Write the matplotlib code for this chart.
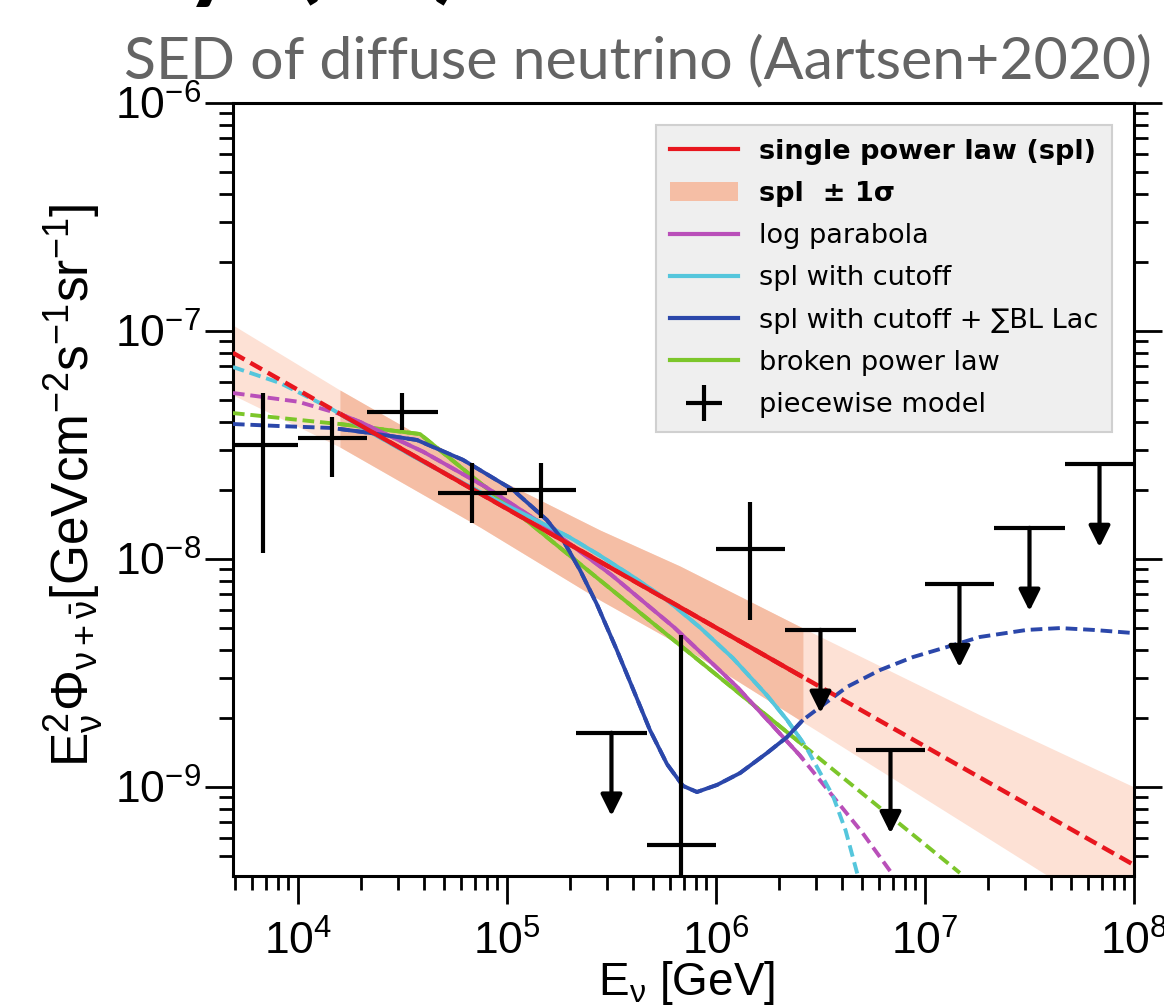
import numpy as np
import matplotlib
matplotlib.use("Agg")
import matplotlib.pyplot as plt
from matplotlib.lines import Line2D
from matplotlib.patches import Patch

# everything below is log10(E / GeV) and log10(E^2 Phi / GeV cm^-2 s^-1 sr^-1)
spl_logE = [3.689, 4.201, 6.416, 8.0]
spl_logF = [-7.096, -7.363, -8.518, -9.342]

band_logE = [3.689, 4.201, 4.871, 5.445, 5.828, 6.416, 7.263, 8.0]
band_top = [-6.974, -7.259, -7.610, -7.873, -8.031, -8.303, -8.684, -9.000]
band_bot = [-7.281, -7.509, -7.860, -8.180, -8.377, -8.715, -9.202, -9.627]

logpar_logE = [3.689, 4.0, 4.201, 4.3, 4.6, 4.9, 5.2, 5.5, 5.8, 6.1, 6.4, 6.416, 6.7, 6.85]
logpar_logF = [-7.272, -7.31, -7.364, -7.40, -7.53, -7.685, -7.865, -8.07, -8.30, -8.56, -8.86,
               -8.878, -9.20, -9.39]

cut_logE = [3.689, 3.914, 4.153, 4.201, 4.311, 4.584, 4.871, 5.158, 5.30, 5.445, 5.603, 5.766,
            5.923, 6.081, 6.244, 6.340, 6.416, 6.435, 6.560, 6.62, 6.679]
cut_logF = [-7.158, -7.228, -7.338, -7.364, -7.425, -7.566, -7.706, -7.838, -7.905, -7.985, -8.078,
            -8.180, -8.300, -8.435, -8.598, -8.706, -8.805, -8.832, -9.040, -9.19, -9.390]

bllac_logE = [3.689, 3.914, 4.153, 4.201, 4.344, 4.569, 4.789, 4.871, 5.029, 5.191, 5.268, 5.349,
              5.431, 5.526, 5.603, 5.684, 5.766, 5.842, 5.909, 6.005, 6.115, 6.244, 6.340,
              6.416, 6.435, 6.627, 6.785, 6.943, 7.105, 7.263, 7.488, 7.646, 7.804, 8.0]
bllac_logF = [-7.408, -7.417, -7.425, -7.430, -7.447, -7.478, -7.565, -7.610, -7.697, -7.829, -7.917,
              -8.048, -8.200, -8.400, -8.570, -8.750, -8.900, -8.995, -9.022, -8.991, -8.939, -8.851,
              -8.781, -8.706, -8.693, -8.561, -8.487, -8.430, -8.386, -8.342, -8.311, -8.303, -8.311,
              -8.325]

bpl_logE = [3.689, 4.153, 4.201, 4.584, 6.416, 7.167]
bpl_logF = [-7.360, -7.404, -7.408, -7.452, -8.816, -9.377]

# sensitive energy range (solid lines / dark band)
fit_lo, fit_hi = 4.201, 6.416

# piecewise model: bins in log10(E), flux values (upper limits flagged)
pw_lo = [3.67, 4.0, 4.33, 4.67, 5.0, 5.33, 5.67, 6.0, 6.33, 6.67, 7.0, 7.33, 7.67]
pw_hi = [4.0, 4.33, 4.67, 5.0, 5.33, 5.67, 6.0, 6.33, 6.67, 7.0, 7.33, 7.67, 8.0]
pw_flux = [3.16e-8, 3.40e-8, 4.41e-8, 1.95e-8, 2.01e-8, 1.73e-9, 5.57e-10,
           1.11e-8, 4.89e-9, 1.45e-9, 7.76e-9, 1.37e-8, 2.61e-8]
pw_up = [5.35e-8, 4.20e-8, 5.35e-8, 2.64e-8, 2.64e-8, None, 4.65e-9,
         1.78e-8, None, None, None, None, None]
pw_down = [1.06e-8, 2.29e-8, 3.68e-8, 1.44e-8, 1.51e-8, None, 1.0e-10,
           5.4e-9, None, None, None, None, None]
pw_ul = [False, False, False, False, False, True, False, False, True, True, True, True, True]

RED = "#e8161e"
MAG = "#b94fb9"
CYAN = "#55c6dc"
BLUE = "#2b47aa"
GREEN = "#7cc62a"
BAND_DARK = "#f5bea5"
BAND_LIGHT = "#fde1d5"

plt.rcParams["font.family"] = ["Liberation Sans", "DejaVu Sans"]
plt.rcParams["mathtext.fontset"] = "custom"
plt.rcParams["mathtext.rm"] = "Liberation Sans"
plt.rcParams["mathtext.it"] = "Liberation Sans"
plt.rcParams["mathtext.bf"] = "Liberation Sans:bold"

fig = plt.figure(figsize=(11.64, 10.07), dpi=100)
ax = fig.add_axes([233 / 1164, 1 - 876 / 1007, 901 / 1164, 773 / 1007])


def curve(logE, logF, color, lw=2.8):
    E = 10 ** np.array(logE)
    F = 10 ** np.array(logF)
    ax.plot(E, F, color=color, lw=lw, ls=(0, (3, 1.5)), zorder=3)
    m = (np.array(logE) >= fit_lo - 1e-6) & (np.array(logE) <= fit_hi + 1e-6)
    idx = np.where(m)[0]
    if len(idx) > 1:
        lo, hi = idx[0], idx[-1] + 1
        ax.plot(E[lo:hi], F[lo:hi], color=color, lw=lw, solid_capstyle="butt", zorder=4)


# uncertainty band
bE = 10 ** np.array(band_logE)
bT = 10 ** np.array(band_top)
bB = 10 ** np.array(band_bot)
ax.fill_between(bE, bB, bT, color=BAND_LIGHT, lw=0, zorder=1)
inside = (np.array(band_logE) >= fit_lo - 1e-6) & (np.array(band_logE) <= fit_hi + 1e-6)
ax.fill_between(bE, bB, bT, where=inside, color=BAND_DARK, lw=0, zorder=1.5)

curve(bpl_logE, bpl_logF, GREEN)
curve(logpar_logE, logpar_logF, MAG)
curve(cut_logE, cut_logF, CYAN)
curve(bllac_logE, bllac_logF, BLUE)
curve(spl_logE, spl_logF, RED, lw=3.2)

# piecewise model crosses / upper limits
for lo, hi, f, up, dn, ul in zip(pw_lo, pw_hi, pw_flux, pw_up, pw_down, pw_ul):
    Ec = 10 ** ((lo + hi) / 2)
    ax.plot([10 ** lo, 10 ** hi], [f, f], color="k", lw=3, solid_capstyle="butt", zorder=6)
    if ul:
        ax.annotate("", xy=(Ec, f * 10 ** -0.365), xytext=(Ec, f),
                    arrowprops=dict(arrowstyle="-|>", color="k", lw=3,
                                    mutation_scale=32, shrinkA=0, shrinkB=0), zorder=6)
    else:
        ax.plot([Ec, Ec], [dn, up], color="k", lw=3, solid_capstyle="butt", zorder=6)

ax.set_xscale("log")
ax.set_yscale("log")
ax.set_xlim(4.89e3, 1e8)
ax.set_ylim(4.07e-10, 1e-6)

for s in ax.spines.values():
    s.set_linewidth(2.2)
ax.tick_params(which="both", direction="out", width=2, top=False, right=True)
ax.tick_params(which="major", length=20)
ax.tick_params(which="minor", length=10)
ax.tick_params(axis="x", labelsize=32, pad=12)
ax.tick_params(axis="y", labelsize=32, pad=3)

ax.set_xlabel(r"E$_\nu$ [GeV]", fontsize=33)
ax.xaxis.set_label_coords(0.503, -0.108)
ax.set_ylabel(r"E$_\nu^2\Phi_{\nu+\bar\nu}$[GeVcm$^{-2}$s$^{-1}$sr$^{-1}$]", fontsize=37)
ax.yaxis.set_label_coords(-0.142, 0.506)

handles = [
    Line2D([], [], color=RED, lw=3),
    Patch(facecolor=BAND_DARK, edgecolor="none"),
    Line2D([], [], color=MAG, lw=3),
    Line2D([], [], color=CYAN, lw=3),
    Line2D([], [], color=BLUE, lw=3),
    Line2D([], [], color=GREEN, lw=3),
    Line2D([], [], color="k", marker="+", ms=26, mew=3, ls="none"),
]
labels = ["single power law (spl)", "spl  ± 1σ", "log parabola", "spl with cutoff",
          "spl with cutoff + ∑BL Lac", "broken power law", "piecewise model"]
leg = ax.legend(handles, labels, loc="upper right", bbox_to_anchor=(0.9756, 0.9715),
                borderaxespad=0, frameon=True, fancybox=False,
                facecolor="#efefef", edgecolor="#d0d0d0", framealpha=1,
                handlelength=2.5, handletextpad=0.8, labelspacing=0.6, borderpad=0.5,
                prop={"family": ["DejaVu Sans"], "size": 19.5})
leg.get_frame().set_linewidth(1.5)
for t in leg.get_texts()[:2]:
    t.set_fontweight("bold")
leg.set_zorder(10)

fig.text(0.548, 1 - 78 / 1007, "SED of diffuse neutrino (Aartsen+2020)", ha="center",
         va="baseline", fontsize=42.5, color="#646464", family=["Lato", "DejaVu Sans"])

# bits of a slide heading cut off at the top edge
for x, s in [(212 / 1164, "y"), (306 / 1164, "("), (447 / 1164, ")")]:
    fig.text(x, 1.011, s, ha="center", va="baseline", fontsize=76, color="k",
             fontweight="bold", family=["Lato", "DejaVu Sans"])

fig.savefig("out.png", dpi=100)
